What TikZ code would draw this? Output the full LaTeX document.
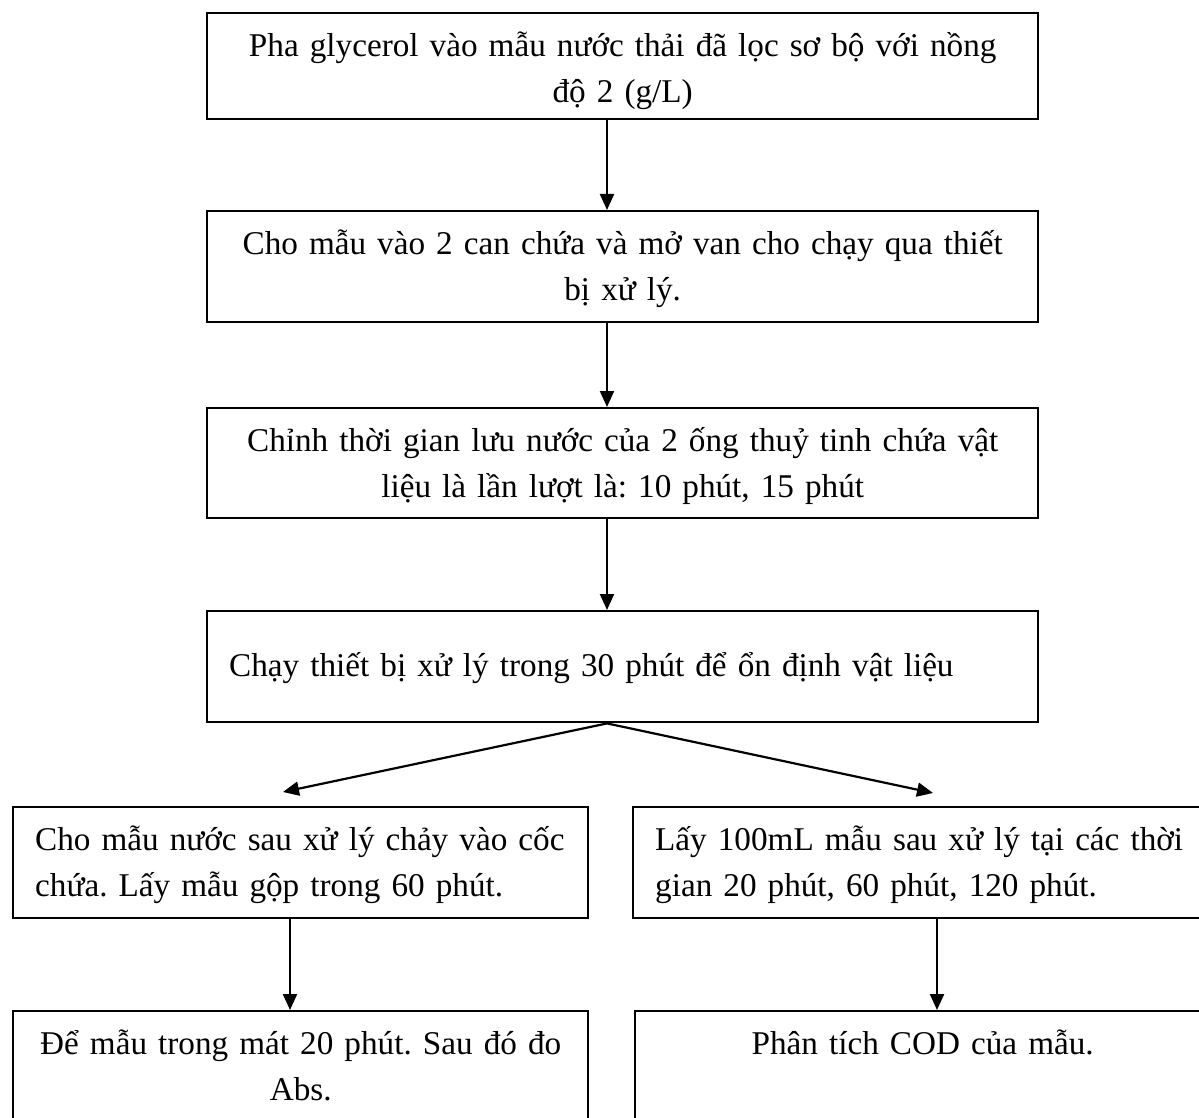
\documentclass[tikz,border=0pt]{standalone}
\usepackage{fontspec}
\setmainfont{Liberation Serif}
\usetikzlibrary{arrows.meta}
\frenchspacing
\begin{document}
\begin{tikzpicture}[x=1pt,y=-1pt,
  box/.style={draw, line width=2.4pt, inner ysep=0pt, inner xsep=10pt,
    font=\fontsize{33.2pt}{46pt}\selectfont\frenchspacing, text height=43pt, text depth=68pt,
    anchor=north west},
  arr/.style={line width=2.2pt, -{Triangle[length=16pt,width=14pt]}}]
\useasboundingbox (0,0) rectangle (1199,1118);
\fill[white] (0,0) rectangle (1199,1118);
\clip (0,0) rectangle (1199,1118);

\coordinate (ax) at (607,0);
\coordinate (axl) at (290,0);
\coordinate (axr) at (937,0);
\coordinate (tl) at (283,792);
\coordinate (tr) at (933,793);

\node[box, text width=811pt, align=center, text depth=63pt] (b1) at (206,12)
  {\mbox{Pha glycerol vào mẫu nước thải đã lọc sơ bộ với nồng}\\\mbox{độ 2 (g/L)}};
\node[box, text width=811pt, align=center] (b2) at (206,210)
  {\mbox{Cho mẫu vào 2 can chứa và mở van cho chạy qua thiết}\\\mbox{bị xử lý.}};
\node[box, text width=811pt, align=center, text depth=67pt] (b3) at (206,407)
  {\mbox{Chỉnh thời gian lưu nước của 2 ống thuỷ tinh chứa vật}\\\mbox{liệu là lần lượt là: 10 phút, 15 phút}};
\node[box, inner xsep=22pt, text width=787pt, align=left, text height=65pt, text depth=46pt] (b4) at (206,610)
  {\mbox{Chạy thiết bị xử lý trong 30 phút để ổn định vật liệu}};
\node[box, inner xsep=22pt, text width=531pt, align=left] (b5) at (12,806)
  {\mbox{Cho mẫu nước sau xử lý chảy vào cốc}\\\mbox{chứa. Lấy mẫu gộp trong 60 phút.}};
\node[box, inner xsep=22pt, text width=531pt, align=left] (b6) at (632,806)
  {\mbox{Lấy 100mL mẫu sau xử lý tại các thời}\\\mbox{gian 20 phút, 60 phút, 120 phút.}};
\node[box, text width=555pt, align=center] (b7) at (12,1010)
  {\mbox{Để mẫu trong mát 20 phút. Sau đó đo}\\\mbox{Abs.}};
\node[box, text width=555pt, align=center] (b8) at (634,1010)
  {\mbox{Phân tích COD của mẫu.}};

\draw[arr] (b1.south -| ax) -- (b2.north -| ax);
\draw[arr] (b2.south -| ax) -- (b3.north -| ax);
\draw[arr] (b3.south -| ax) -- (b4.north -| ax);
\draw[arr] (b4.south -| ax) -- (tl);
\draw[arr] (b4.south -| ax) -- (tr);
\draw[arr] (b5.south -| axl) -- (b7.north -| axl);
\draw[arr] (b6.south -| axr) -- (b8.north -| axr);
\end{tikzpicture}
\end{document}
